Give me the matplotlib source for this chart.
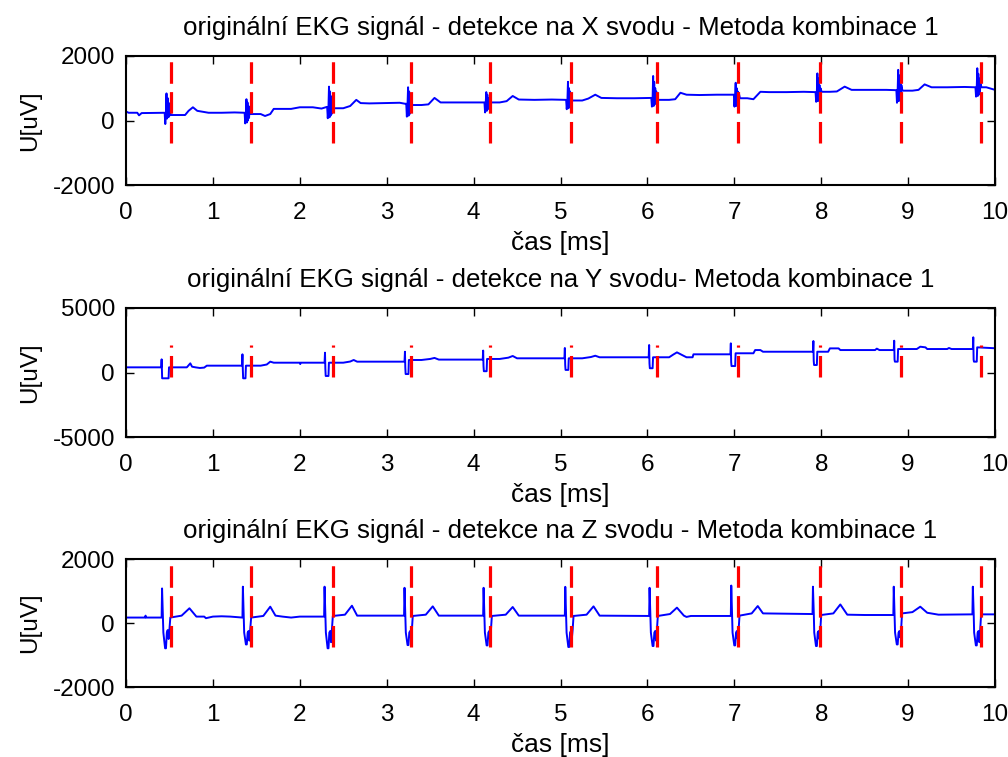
import matplotlib
matplotlib.use("Agg")
import matplotlib.pyplot as plt
import numpy as np

plt.rcParams['font.family'] = ['Liberation Sans', 'DejaVu Sans']
plt.rcParams['lines.scale_dashes'] = False

# ---------------- data ----------------
titles = [
    "originální EKG signál - detekce na X svodu - Metoda kombinace 1",
    "originální EKG signál - detekce na Y svodu- Metoda kombinace 1",
    "originální EKG signál - detekce na Z svodu - Metoda kombinace 1",
]
xlabel = "čas [ms]"
ylabel = "U[uV]"
x_ticks = [0, 1, 2, 3, 4, 5, 6, 7, 8, 9, 10]
y_ticks_xz = [-2000, 0, 2000]
y_ticks_y = [-5000, 0, 5000]

# detected QRS positions (same for all leads)
det_times = [0.518, 1.442, 2.382, 3.280, 4.189, 5.121, 6.107, 7.048, 7.990, 8.918, 9.835]
det_span_x = [-700, 2600]
det_span_y = [-350, 2120]
det_span_z = [-750, 2600]

# X lead
t_x = [
    0.00, 0.03, 0.13, 0.15, 0.18, 0.43,
    0.445, 0.452, 0.460, 0.466, 0.472, 0.478, 0.484, 0.490, 0.496, 0.502, 0.515,
    0.60, 0.68, 0.72, 0.77, 0.82, 0.95, 1.10, 1.25, 1.36,
    1.365, 1.372, 1.380, 1.386, 1.392, 1.398, 1.404, 1.410, 1.416, 1.422, 1.435,
    1.55, 1.60, 1.66, 1.70, 1.90, 2.00, 2.15, 2.25, 2.31,
    2.315, 2.322, 2.330, 2.336, 2.342, 2.348, 2.354, 2.360, 2.366, 2.372, 2.385,
    2.50, 2.58, 2.65, 2.70, 2.80, 3.00, 3.15, 3.21,
    3.225, 3.232, 3.240, 3.246, 3.252, 3.258, 3.264, 3.270, 3.276, 3.282, 3.295,
    3.40, 3.48, 3.55, 3.62, 3.80, 4.00, 4.12,
    4.125, 4.132, 4.140, 4.146, 4.152, 4.158, 4.164, 4.170, 4.176, 4.182, 4.195,
    4.30, 4.38, 4.45, 4.52, 4.70, 4.90, 5.06,
    5.065, 5.072, 5.080, 5.086, 5.092, 5.098, 5.104, 5.110, 5.116, 5.122, 5.135,
    5.25, 5.32, 5.40, 5.47, 5.65, 5.85, 6.04,
    6.045, 6.052, 6.060, 6.066, 6.072, 6.078, 6.084, 6.090, 6.096, 6.102, 6.115,
    6.25, 6.32, 6.38, 6.45, 6.60, 6.80, 6.99,
    6.995, 7.002, 7.010, 7.016, 7.022, 7.028, 7.034, 7.040, 7.046, 7.052, 7.065,
    7.15, 7.22, 7.30, 7.40, 7.60, 7.80, 7.93,
    7.935, 7.942, 7.950, 7.956, 7.962, 7.968, 7.974, 7.980, 7.986, 7.992, 8.005,
    8.10, 8.18, 8.27, 8.35, 8.55, 8.75, 8.86,
    8.865, 8.872, 8.880, 8.886, 8.892, 8.898, 8.904, 8.910, 8.916, 8.922, 8.935,
    9.05, 9.12, 9.19, 9.27, 9.45, 9.65, 9.77,
    9.775, 9.782, 9.790, 9.796, 9.802, 9.808, 9.814, 9.820, 9.826, 9.832, 9.845,
    9.90, 10.0,
]
u_x = [
    280, 240, 240, 160, 230, 240,
    240, -110, 240, 840, 60, 700, 100, 550, 120, 400, 170,
    170, 170, 300, 410, 300, 240, 240, 250, 240,
    240, -90, 240, 660, -60, 560, 0, 450, 80, 350, 200,
    200, 140, 200, 360, 360, 410, 410, 370, 420,
    420, 70, 420, 1050, 100, 900, 150, 750, 200, 600, 380,
    380, 450, 640, 540, 530, 540, 550, 520,
    520, 120, 520, 1030, 150, 900, 200, 750, 250, 600, 480,
    480, 500, 700, 560, 560, 560, 560,
    560, 250, 560, 880, 300, 800, 350, 700, 400, 650, 560,
    560, 600, 760, 650, 640, 650, 640,
    640, 350, 640, 1200, 380, 1000, 420, 900, 450, 800, 620,
    620, 680, 800, 700, 690, 690, 700,
    700, 430, 700, 1380, 450, 1200, 500, 1000, 550, 900, 640,
    640, 660, 860, 800, 790, 800, 800,
    800, 430, 800, 1170, 450, 1000, 500, 900, 550, 850, 690,
    690, 660, 890, 880, 880, 890, 880,
    880, 580, 880, 1460, 600, 1300, 650, 1100, 700, 1000, 890,
    890, 900, 1050, 950, 950, 950, 940,
    940, 550, 940, 1570, 600, 1400, 650, 1200, 700, 1100, 925,
    925, 950, 1120, 1030, 1030, 1040, 1030,
    1030, 740, 1030, 1620, 760, 1450, 800, 1300, 850, 1150, 1030,
    1030, 950,
]

# Y lead
t_y = [
    0.00, 0.40,
    0.405, 0.410, 0.413, 0.416, 0.490, 0.495,
    0.70, 0.72, 0.74, 0.76, 0.80, 0.85, 0.90, 0.93, 1.33,
    1.335, 1.340, 1.344, 1.348, 1.375, 1.380,
    1.55, 1.62, 1.66, 1.70, 2.00, 2.005, 2.01, 2.28,
    2.285, 2.290, 2.294, 2.298, 2.330, 2.335,
    2.50, 2.58, 2.62, 2.66, 3.20,
    3.205, 3.210, 3.214, 3.218, 3.250, 3.255,
    3.40, 3.50, 3.55, 3.60, 4.10,
    4.105, 4.110, 4.114, 4.118, 4.150, 4.155,
    4.30, 4.40, 4.45, 4.50, 5.04,
    5.045, 5.050, 5.054, 5.058, 5.090, 5.095,
    5.25, 5.35, 5.40, 5.45, 6.01,
    6.015, 6.020, 6.024, 6.028, 6.060, 6.065,
    6.25, 6.30, 6.34, 6.40, 6.45, 6.52, 6.53, 6.95,
    6.955, 6.960, 6.964, 6.968, 7.010, 7.015,
    7.22, 7.24, 7.30, 7.33, 7.90,
    7.905, 7.910, 7.914, 7.918, 7.950, 7.955,
    8.08, 8.10, 8.20, 8.22, 8.62, 8.64, 8.67, 8.83,
    8.835, 8.840, 8.844, 8.848, 8.880, 8.885,
    9.10, 9.14, 9.20, 9.22, 9.45, 9.47, 9.50, 9.74,
    9.745, 9.750, 9.754, 9.758, 9.790, 9.795,
    10.0,
]
u_y = [
    400, 400,
    400, 1020, 300, -450, -450, 400,
    400, 550, 710, 450, 400, 350, 380, 530, 530,
    530, 1410, 300, -450, -450, 530,
    530, 620, 840, 760, 760, 650, 760, 760,
    760, 1535, 300, -270, -270, 760,
    760, 850, 970, 840, 840,
    840, 1610, 400, -120, -120, 970,
    970, 1050, 1130, 1000, 1000,
    1000, 1700, 500, 100, 100, 1050,
    1050, 1150, 1280, 1100, 1100,
    1100, 1900, 600, 200, 200, 1100,
    1100, 1200, 1300, 1180, 1180,
    1180, 2130, 700, 330, 330, 1180,
    1180, 1400, 1560, 1350, 1180, 1180, 1410, 1410,
    1410, 2260, 800, 500, 500, 1490,
    1490, 1740, 1740, 1610, 1610,
    1610, 2440, 900, 580, 580, 1610,
    1610, 1870, 1870, 1740, 1740, 1850, 1740, 1740,
    1740, 2465, 1000, 840, 840, 1820,
    1820, 2000, 1950, 1820, 1820, 1900, 1820, 1820,
    1820, 2730, 1000, 840, 840, 1950,
    1880,
]

# Z lead
t_z = [
    0.00, 0.22, 0.225, 0.23,
    0.410, 0.415, 0.425, 0.430, 0.450, 0.460, 0.470, 0.480, 0.490, 0.500, 0.510,
    0.64, 0.73, 0.81, 0.90, 0.92, 1.00, 1.10, 1.20, 1.33,
    1.340, 1.345, 1.355, 1.360, 1.380, 1.390, 1.400, 1.410, 1.420, 1.430, 1.440,
    1.58, 1.66, 1.72, 1.80, 1.90, 2.00, 2.27,
    2.280, 2.285, 2.295, 2.300, 2.320, 2.330, 2.340, 2.350, 2.360, 2.370, 2.380,
    2.52, 2.60, 2.66, 2.80, 3.00, 3.19,
    3.200, 3.205, 3.215, 3.220, 3.240, 3.250, 3.260, 3.270, 3.280, 3.290, 3.300,
    3.45, 3.53, 3.60, 4.10,
    4.110, 4.115, 4.125, 4.130, 4.150, 4.160, 4.170, 4.180, 4.190, 4.200, 4.210,
    4.37, 4.45, 4.52, 5.04,
    5.050, 5.055, 5.065, 5.070, 5.090, 5.100, 5.110, 5.120, 5.130, 5.140, 5.150,
    5.30, 5.38, 5.45, 6.01,
    6.020, 6.025, 6.035, 6.040, 6.060, 6.070, 6.080, 6.090, 6.100, 6.110, 6.120,
    6.26, 6.34, 6.42, 6.45, 6.50, 6.95,
    6.960, 6.965, 6.975, 6.980, 7.000, 7.010, 7.020, 7.030, 7.040, 7.050, 7.060,
    7.20, 7.27, 7.33, 7.89,
    7.900, 7.905, 7.915, 7.920, 7.940, 7.950, 7.960, 7.970, 7.980, 7.990, 8.000,
    8.14, 8.22, 8.30, 8.50, 8.82,
    8.830, 8.835, 8.845, 8.850, 8.870, 8.880, 8.890, 8.900, 8.910, 8.920, 8.930,
    9.05, 9.14, 9.22, 9.35, 9.73,
    9.740, 9.745, 9.755, 9.760, 9.780, 9.790, 9.800, 9.810, 9.820, 9.830, 9.840,
    10.0,
]
u_z = [
    170, 170, 230, 170,
    170, 1080, 170, -300, -790, -790, -300, -220, -500, -200, 170,
    230, 460, 200, 200, 150, 200, 210, 200, 170,
    170, 1135, 170, -300, -670, -670, -300, -250, -550, -200, 170,
    220, 510, 230, 200, 170, 200, 200,
    200, 1135, 200, -300, -790, -790, -300, -250, -600, -200, 220,
    260, 540, 230, 230, 230, 230,
    230, 1100, 230, -300, -690, -690, -300, -250, -500, -200, 220,
    260, 520, 230, 230,
    230, 1100, 230, -300, -700, -700, -300, -250, -550, -200, 220,
    260, 500, 230, 230,
    230, 1130, 230, -300, -750, -750, -300, -250, -500, -200, 220,
    260, 520, 230, 220,
    220, 1100, 220, -300, -720, -720, -300, -250, -550, -200, 220,
    280, 480, 230, 190, 220, 220,
    220, 1170, 220, -300, -700, -700, -300, -250, -500, -200, 230,
    300, 530, 300, 280,
    280, 1135, 280, -300, -720, -720, -300, -250, -500, -200, 250,
    300, 580, 260, 250, 250,
    250, 1135, 250, -300, -670, -670, -300, -250, -450, -200, 300,
    340, 510, 320, 260, 270,
    270, 1135, 270, -300, -700, -700, -300, -250, -600, -200, 270,
    270,
]

signals = [(t_x, u_x), (t_y, u_y), (t_z, u_z)]
yticks_all = [y_ticks_xz, y_ticks_y, y_ticks_xz]
spans = [det_span_x, det_span_y, det_span_z]

# ---------------- figure ----------------
W, H = 1008, 757
fig = plt.figure(figsize=(W / 100, H / 100), dpi=100)
boxes_px = [(126, 56, 995, 185), (126, 308, 995, 437), (126, 559, 995, 687)]

FS = 17.5
for i, (x0, y0, x1, y1) in enumerate(boxes_px):
    ax = fig.add_axes([x0 / W, 1 - y1 / H, (x1 - x0) / W, (y1 - y0) / H])
    t, u = signals[i]
    ax.plot(t, u, color=(0, 0, 1), lw=1.4, zorder=2)
    lo, hi = spans[i]
    for td in det_times:
        ax.plot([td, td], [lo, hi], color=(1, 0, 0), lw=2.3,
                dashes=(15.5, 6.0), zorder=3, solid_capstyle='butt',
                dash_capstyle='butt')
    yt = yticks_all[i]
    ax.set_xlim(0, 10)
    ax.set_ylim(yt[0], yt[-1])
    ax.set_xticks(x_ticks)
    ax.set_yticks(yt)
    ax.set_xticklabels([str(v) for v in x_ticks])
    ax.set_yticklabels([str(v) for v in yt])
    ax.tick_params(direction='in', length=5.5, width=1.0, top=True, right=True,
                   labelsize=FS, colors='black')
    ax.tick_params(axis='x', pad=12)
    ax.tick_params(axis='y', pad=8)
    for s in ax.spines.values():
        s.set_linewidth(1.5)
    ax.set_title(titles[i], fontsize=18.6, pad=15)
    ax.set_xlabel(xlabel, fontsize=19, labelpad=5)
    ax.set_ylabel(ylabel, fontsize=FS, labelpad=8)

fig.savefig("out.png", dpi=100)
